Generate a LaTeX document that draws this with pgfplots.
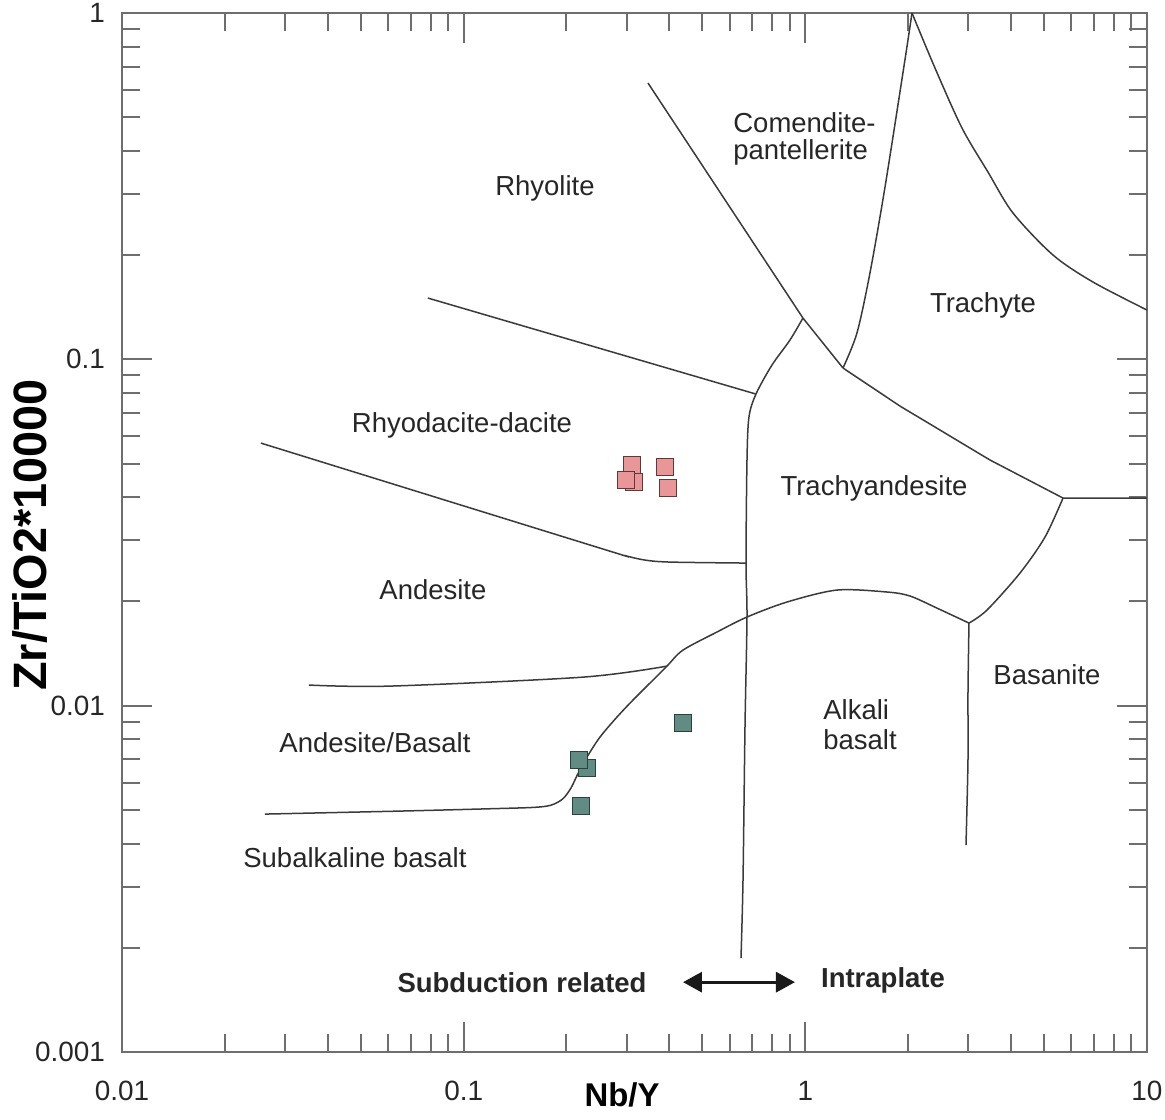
\documentclass[border=0pt]{standalone}
\usepackage{pgfplots}
\pgfplotsset{compat=1.18}
\usepackage{fontspec}
\setmainfont{Liberation Sans}
\usetikzlibrary{arrows.meta}

\definecolor{framegray}{HTML}{6E6E6E}
\definecolor{fieldline}{HTML}{3A3A3A}
\definecolor{felsicfill}{HTML}{E89698}
\definecolor{felsicedge}{HTML}{5A3A3A}
\definecolor{maficfill}{HTML}{608C84}
\definecolor{maficedge}{HTML}{2D403D}

\pgfplotsset{
  field/.style={draw=fieldline, line width=0.75bp, mark=none},
  sample/.style={only marks, mark=square*, mark size=4.25bp,
    mark options={solid, fill=#1fill, draw=#1edge, line width=0.6bp}},
}

\begin{document}
\begin{tikzpicture}
\begin{axis}[
  name=main,
  scale only axis,
  width=512.5bp, height=519.5bp,
  xmode=log, ymode=log,
  xmin=0.01, xmax=10, ymin=0.001, ymax=1,
  axis line style={draw=framegray, line width=1bp},
  every tick/.style={draw=framegray, line width=1bp},
  tick align=inside,
  major tick length=15bp,
  minor tick length=9bp,
  xtick={0.01,0.1,1,10},
  xticklabels={0.01,0.1,1,10},
  ytick={0.001,0.01,0.1,1},
  yticklabels={0.001,0.01,0.1,1},
  minor xtick={0.02,0.03,0.04,0.05,0.06,0.07,0.08,0.09,0.2,0.3,0.4,0.5,0.6,0.7,0.8,0.9,2,3,4,5,6,7,8,9},
  minor ytick={0.002,0.003,0.004,0.005,0.006,0.007,0.008,0.009,0.02,0.03,0.04,0.05,0.06,0.07,0.08,0.09,0.2,0.3,0.4,0.5,0.6,0.7,0.8,0.9},
  ticklabel style={font=\fontsize{14}{16}\selectfont, text=black!85},
  xticklabel style={yshift=-11bp},
  yticklabel style={xshift=-5bp},
  xlabel={\textbf{Nb/Y}},
  ylabel={\textbf{Zr/TiO2*10000}},
  xlabel style={at={(axis description cs:0.4878,-0.0414)}, anchor=center, font=\fontsize{16.5}{18}\selectfont},
  ylabel style={at={(axis description cs:-0.0898,0.4976)}, anchor=center, font=\fontsize{23.5}{26}\selectfont},
  clip=false,
]

% field boundaries
% rhyolite / comendite-pantellerite
\addplot[field] coordinates {(0.3463,0.628) (0.984,0.1316) (1.289,0.0944)};
% comendite-pantellerite / trachyte
\addplot[field, smooth] coordinates {(1.289,0.0944) (1.416,0.1191) (1.546,0.1776) (1.711,0.3145) (1.957,0.7317) (2.052,1)};
% trachyte upper boundary
\addplot[field, smooth] coordinates {(2.052,1) (2.396,0.6937) (2.874,0.4656) (3.425,0.3474) (4.053,0.2646) (5.307,0.2001) (6.949,0.1672) (10,0.1388)};
% rhyolite / rhyodacite-dacite
\addplot[field] coordinates {(0.0786,0.1503) (0.7171,0.0794)};
% subalkaline / alkaline divide
\addplot[field, smooth] coordinates {(0.984,0.1316) (0.9017,0.1137) (0.7990,0.0963) (0.7171,0.0794) (0.6840,0.0681) (0.6750,0.0512) (0.6705,0.02581) (0.6750,0.01803) (0.6660,0.008676) (0.6571,0.003135) (0.6482,0.001867)};
% rhyodacite-dacite / andesite
\addplot[field, smooth] coordinates {(0.02551,0.0573) (0.2506,0.02851) (0.2966,0.02713) (0.3394,0.02633) (0.4016,0.02598) (0.6705,0.02581)};
% andesite / andesite-basalt
\addplot[field, smooth] coordinates {(0.03526,0.01147) (0.06088,0.01139) (0.2234,0.01209) (0.3937,0.01301)};
% subalkaline basalt and alkali basalt upper boundary
\addplot[field, smooth] coordinates {(0.02621,0.004864) (0.0651,0.004962) (0.1200,0.005040) (0.1600,0.005085) (0.1800,0.005160) (0.1950,0.005380) (0.2060,0.005780) (0.2150,0.006300) (0.2296,0.007106) (0.2506,0.008115) (0.2810,0.009271) (0.3130,0.01038) (0.3510,0.01162) (0.3937,0.01301) (0.4385,0.01447) (0.5514,0.01632) (0.6750,0.01803) (0.8837,0.01992) (1.238,0.02157) (1.734,0.02129) (2.025,0.02073) (2.429,0.01913) (3.013,0.01732)};
% alkali basalt / basanite
\addplot[field, smooth] coordinates {(3.013,0.01732) (2.993,0.01088) (2.993,0.006966) (2.953,0.003958)};
% basanite / trachyandesite
\addplot[field, smooth] coordinates {(3.013,0.01732) (3.401,0.01888) (4.249,0.02415) (5.029,0.03068) (5.678,0.03977)};
% trachyandesite / trachyte
\addplot[field] coordinates {(1.289,0.0944) (1.893,0.0733) (3.472,0.0512) (5.678,0.03977) (10,0.03977)};

% samples
\addplot[sample=felsic] coordinates {(0.3111,0.04952) (0.3152,0.04422) (0.2987,0.04482) (0.3883,0.04887) (0.3962,0.04249)};
\addplot[sample=mafic] coordinates {(0.2296,0.006603) (0.2176,0.006966) (0.2205,0.005129) (0.4385,0.008908)};

% field names
\begin{scope}[every node/.style={font=\fontsize{13.8}{16}\selectfont, text=black!85, inner sep=0pt}]
\node[anchor=west] at (axis cs:0.6141,0.4813) {Comendite-};
\node[anchor=west] at (axis cs:0.6141,0.3968) {pantellerite};
\node at (axis cs:0.1730,0.3124) {Rhyolite};
\node at (axis cs:3.311,0.1435) {Trachyte};
\node at (axis cs:0.0989,0.0646) {Rhyodacite-dacite};
\node at (axis cs:1.589,0.04249) {Trachyandesite};
\node at (axis cs:0.0813,0.02157) {Andesite};
\node at (axis cs:0.05501,0.0078) {Andesite/Basalt};
\node[anchor=west] at (axis cs:1.126,0.00977) {Alkali};
\node[anchor=west] at (axis cs:1.126,0.00796) {basalt};
\node at (axis cs:5.097,0.01226) {Basanite};
\node at (axis cs:0.04806,0.003630) {Subalkaline basalt};
\node[font=\fontsize{13.8}{16}\selectfont\bfseries] at (axis cs:0.1482,0.001591) {Subduction related};
\node[font=\fontsize{13.8}{16}\selectfont\bfseries] at (axis cs:1.688,0.001612) {Intraplate};
\end{scope}
\draw[{Triangle[length=9.5bp,width=10bp]}-{Triangle[length=9.5bp,width=10bp]}, line width=1.6bp, black!90]
  (axis cs:0.4385,0.001591) -- (axis cs:0.9326,0.001591);
\end{axis}
\path (main.south west) +(-61bp,-34bp) coordinate (bl);
\path (main.north east) +(9bp,6.5bp) coordinate (tr);
\pgfresetboundingbox
\path[use as bounding box] (bl) rectangle (tr);
\end{tikzpicture}
\end{document}
